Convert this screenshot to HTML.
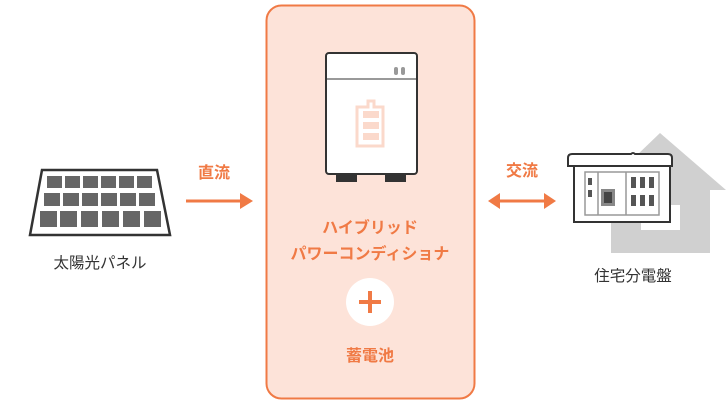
<!DOCTYPE html>
<html><head><meta charset="utf-8"><style>
body{margin:0;width:726px;height:405px;background:#fff;overflow:hidden}
text{font-family:"Liberation Sans","Noto Sans CJK JP",sans-serif}
</style></head><body>
<svg width="726" height="405" viewBox="0 0 726 405">
<rect x="266.5" y="5.5" width="208" height="393" rx="15" fill="#fde3d9" stroke="#f07a45" stroke-width="2"/>
<rect x="336" y="173" width="21" height="9" fill="#333"/>
<rect x="385" y="173" width="21" height="9" fill="#333"/>
<rect x="326" y="53" width="91" height="121" rx="3" fill="#fff" stroke="#333" stroke-width="2"/>
<line x1="327" y1="79" x2="416" y2="79" stroke="#999" stroke-width="2"/>
<rect x="394" y="67" width="4" height="8" rx="2" fill="#999"/>
<rect x="401" y="67" width="4" height="8" rx="2" fill="#999"/>
<path d="M368 101h6v6h9v39h-26v-39h11z" fill="none" stroke="#fbd9cb" stroke-width="3"/>
<rect x="363" y="111" width="16" height="7" fill="#fbd9cb"/>
<rect x="363" y="122" width="16" height="7" fill="#fbd9cb"/>
<rect x="363" y="133" width="16" height="7" fill="#fbd9cb"/>
<g fill="#f07a45" font-size="16" font-weight="bold" text-anchor="middle">
<text x="370" y="233">ハイブリッド</text>
<text x="370" y="259">パワーコンディショナ</text>
<text x="370" y="361">蓄電池</text>
<text x="214" y="178">直流</text>
<text x="522" y="176">交流</text>
</g>
<circle cx="370" cy="302" r="24" fill="#fff"/>
<rect x="359" y="300" width="22" height="4" fill="#f07a45"/>
<rect x="368" y="291" width="4" height="22" fill="#f07a45"/>
<line x1="186" y1="201" x2="242" y2="201" stroke="#f07a45" stroke-width="3"/>
<polygon points="240,193 253,201 240,209" fill="#f07a45"/>
<line x1="498" y1="201" x2="546" y2="201" stroke="#f07a45" stroke-width="3"/>
<polygon points="500,193 488,201 500,209" fill="#f07a45"/>
<polygon points="544,193 556,201 544,209" fill="#f07a45"/>
<polygon points="42,170 157,170 170,235 30,235" fill="#fff" stroke="#333" stroke-width="2.5"/>
<g fill="#666">
<rect x="47" y="176" width="15" height="12"/><rect x="65" y="176" width="15" height="12"/><rect x="83" y="176" width="15" height="12"/><rect x="101" y="176" width="15" height="12"/><rect x="119" y="176" width="15" height="12"/><rect x="137" y="176" width="15" height="12"/>
<rect x="44" y="193" width="16" height="13"/><rect x="63" y="193" width="16" height="13"/><rect x="82" y="193" width="16" height="13"/><rect x="101" y="193" width="16" height="13"/><rect x="120" y="193" width="16" height="13"/><rect x="139" y="193" width="16" height="13"/>
<rect x="40" y="211" width="17" height="16"/><rect x="60" y="211" width="17" height="16"/><rect x="81" y="211" width="17" height="16"/><rect x="102" y="211" width="17" height="16"/><rect x="123" y="211" width="17" height="16"/><rect x="144" y="211" width="17" height="16"/>
</g>
<g fill="#333" font-size="15.5" text-anchor="middle">
<text x="100" y="268">太陽光パネル</text>
<text x="633" y="281">住宅分電盤</text>
</g>
<polygon points="660,133 726,190 710,190 710,253 611,253 611,180" fill="#d0d0d0"/>
<rect x="641" y="205" width="39" height="25" fill="#fff"/>
<rect x="574" y="166" width="96" height="56" fill="#fff" stroke="#333" stroke-width="2"/>
<path d="M568 166v-8q0-4 4-4h59q2-2 4 0h33q4 0 4 4v8z" fill="#fff" stroke="#333" stroke-width="2"/>
<rect x="585" y="172" width="74" height="43" fill="#fff" stroke="#999" stroke-width="1.5"/>
<line x1="598" y1="172" x2="598" y2="215" stroke="#999" stroke-width="1.5"/>
<line x1="626" y1="172" x2="626" y2="215" stroke="#999" stroke-width="1.5"/>
<g fill="#555"><rect x="588" y="178" width="4" height="7"/><rect x="588" y="190" width="4" height="7"/>
<rect x="601" y="189" width="14" height="17" fill="#888"/><rect x="604" y="192" width="8" height="11" fill="#444"/>
<rect x="631" y="177" width="5" height="11"/><rect x="640" y="177" width="5" height="11"/><rect x="649" y="177" width="5" height="11"/>
<rect x="631" y="195" width="5" height="11"/><rect x="640" y="195" width="5" height="11"/><rect x="649" y="195" width="5" height="11"/></g>
</svg>
</body></html>
